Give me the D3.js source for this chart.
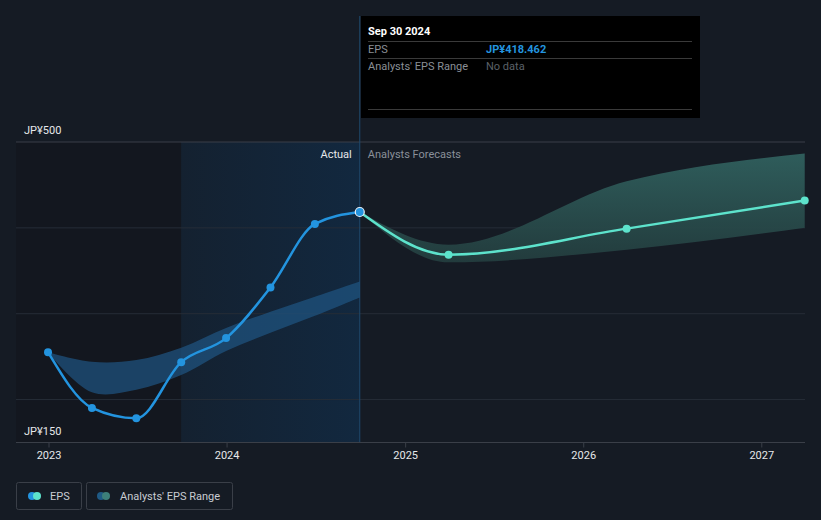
<!DOCTYPE html>
<html>
<head>
<meta charset="utf-8">
<script src="https://cdn.jsdelivr.net/npm/d3@7"></script>
<style>
  html, body { margin: 0; padding: 0; background: #151b24; }
  svg { display: block; font-family: Roboto, "Noto Sans", sans-serif; }
</style>
</head>
<body>
<svg id="chart" width="821" height="520"></svg>
<script>
// ---- data ----
const actualDates = ["2022-12-31","2023-03-31","2023-06-30","2023-09-30","2023-12-31","2024-03-31","2024-06-30","2024-09-30"];
const actualEPS   = [255.2, 190.3, 178.2, 243.6, 271.6, 330.6, 404.6, 418.462];

const pastRangeDates = ["2022-12-31","2023-03-31","2023-06-30","2023-09-30","2023-12-31","2024-03-31","2024-06-30","2024-09-30"];
const pastRangeHigh  = [255.2, 244.0, 246.0, 260.5, 283.5, 302.3, 319.8, 337.6];
const pastRangeLow   = [255.2, 208.5, 211.5, 228.5, 256.5, 277.8, 297.6, 319.0];

const forecastDates = ["2024-09-30","2025-03-31","2026-03-31","2027-03-31"];
const forecastEPS   = [418.462, 368.8, 399.1, 431.8];
const forecastHigh  = [418.462, 380.4, 454.3, 486.6];
const forecastLow   = [418.462, 359.8, 374.6, 400.0];

const yearTicks = ["2023","2024","2025","2026","2027"];
const yTickLabels = [500, 150];
const gridValues = [500, 400, 300, 200];

const tooltipDate = "Sep 30 2024";
const tooltipEPS = "JP¥418.462";
const tooltipRange = "No data";

// ---- setup ----
const W = 821, H = 520;
const parse = d3.timeParse("%Y-%m-%d");
const svg = d3.select("#chart");

const x = d3.scaleTime()
  .domain([parse("2023-01-01"), parse("2027-01-01")])
  .range([48.5, 761.3]);
const y = d3.scaleLinear().domain([150, 500]).range([442.5, 142]);

const plotLeft = 16, plotRight = 805, plotTop = 142, plotBottom = 442.5;
const splitDate = parse("2024-09-30");
const highlightStart = parse("2023-09-30");

const defs = svg.append("defs");
const hg = defs.append("linearGradient").attr("id","hl").attr("x1","0").attr("x2","1").attr("y1","0").attr("y2","0");
hg.append("stop").attr("offset","0").attr("stop-color","#142130");
hg.append("stop").attr("offset","1").attr("stop-color","#12283f");
const fg = defs.append("linearGradient").attr("id","fband").attr("x1","0").attr("x2","0").attr("y1","0").attr("y2","1");
fg.append("stop").attr("offset","0").attr("stop-color","#30605e");
fg.append("stop").attr("offset","1").attr("stop-color","#233d3e");

// background regions
svg.append("rect").attr("x",0).attr("y",0).attr("width",W).attr("height",H).attr("fill","#151b24");
svg.append("rect").attr("x",plotLeft).attr("y",plotTop)
  .attr("width", x(highlightStart)-plotLeft).attr("height", plotBottom-plotTop).attr("fill","#13171f");
svg.append("rect").attr("x",x(highlightStart)).attr("y",plotTop)
  .attr("width", x(splitDate)-x(highlightStart)).attr("height", plotBottom-plotTop).attr("fill","url(#hl)");

// gridlines
svg.append("g").selectAll("line").data(gridValues).join("line")
  .attr("x1",plotLeft).attr("x2",plotRight)
  .attr("y1",d=>y(d)).attr("y2",d=>y(d))
  .attr("stroke", (d,i)=> i===0 ? "#3a3f48" : "#262d37").attr("stroke-width",1);

// split vertical line
svg.append("line").attr("x1",x(splitDate)).attr("x2",x(splitDate))
  .attr("y1",16).attr("y2",plotBottom).attr("stroke","#1e4a6e").attr("stroke-width",1);

// bands
const pastBand = pastRangeDates.map((d,i)=>({d:parse(d), hi:pastRangeHigh[i], lo:pastRangeLow[i]}));
const fBand = forecastDates.map((d,i)=>({d:parse(d), hi:forecastHigh[i], lo:forecastLow[i]}));
const pastArea = d3.area().x(p=>x(p.d)).y0(p=>y(p.lo)).y1(p=>y(p.hi)).curve(d3.curveCatmullRom.alpha(0.5));
const area = d3.area().x(p=>x(p.d)).y0(p=>y(p.lo)).y1(p=>y(p.hi)).curve(d3.curveMonotoneX);
svg.append("path").datum(pastBand).attr("d",pastArea).attr("fill","#1f5683").attr("fill-opacity",0.7);
svg.append("path").datum(fBand).attr("d",area).attr("fill","url(#fband)").attr("fill-opacity",0.95);

// lines
const act = actualDates.map((d,i)=>({d:parse(d), v:actualEPS[i]}));
const fc = forecastDates.map((d,i)=>({d:parse(d), v:forecastEPS[i]}));
const line = d3.line().x(p=>x(p.d)).y(p=>y(p.v)).curve(d3.curveMonotoneX);
svg.append("path").datum(fc).attr("d",line).attr("fill","none").attr("stroke","#5de3cc").attr("stroke-width",2.5);
svg.append("path").datum(act).attr("d",line).attr("fill","none").attr("stroke","#2394df").attr("stroke-width",2.5);

svg.append("g").selectAll("circle").data(fc.slice(1)).join("circle")
  .attr("cx",p=>x(p.d)).attr("cy",p=>y(p.v)).attr("r",4).attr("fill","#5de3cc");
svg.append("g").selectAll("circle").data(act.slice(0,-1)).join("circle")
  .attr("cx",p=>x(p.d)).attr("cy",p=>y(p.v)).attr("r",4).attr("fill","#2394df");
const last = act[act.length-1];
svg.append("circle").attr("cx",x(last.d)).attr("cy",y(last.v)).attr("r",4.5)
  .attr("fill","#2394df").attr("stroke","#e8eef5").attr("stroke-width",1.2);

// x axis
svg.append("line").attr("x1",plotLeft).attr("x2",plotRight).attr("y1",plotBottom).attr("y2",plotBottom)
  .attr("stroke","#3a3f48").attr("stroke-width",1);
const xAxis = d3.axisBottom(x)
  .tickValues(yearTicks.map(t=>parse(t+"-01-01")))
  .tickFormat(d3.timeFormat("%Y")).tickSize(5).tickPadding(4);
const gx = svg.append("g").attr("transform",`translate(0,${plotBottom})`).call(xAxis);
gx.select(".domain").remove();
gx.selectAll(".tick line").attr("stroke","#3a3f48");
gx.selectAll(".tick text").attr("fill","#e6e8ea").attr("font-size",11).attr("font-family","Roboto, sans-serif");

// y labels
svg.append("g").selectAll("text").data(yTickLabels).join("text")
  .attr("x",24).attr("y",d=>y(d)-8).attr("fill","#e6e8ea").attr("font-size",11)
  .text(d=>"JP¥"+d);

// Actual / Forecast labels
svg.append("text").attr("x",x(splitDate)-8).attr("y",158).attr("text-anchor","end")
  .attr("fill","#e6e8ea").attr("font-size",11).text("Actual");
svg.append("text").attr("x",x(splitDate)+8).attr("y",158)
  .attr("fill","#8a9099").attr("font-size",11).text("Analysts Forecasts");

// tooltip
const tt = svg.append("g");
tt.append("rect").attr("x",361).attr("y",16).attr("width",339).attr("height",102).attr("fill","#000");
tt.append("text").attr("x",368).attr("y",35).attr("fill","#ffffff").attr("font-size",11).attr("font-weight","bold").text(tooltipDate);
[41.5,58.5,109.5].forEach(yy=>tt.append("line").attr("x1",368).attr("x2",692).attr("y1",yy).attr("y2",yy).attr("stroke","#3a3a3a"));
tt.append("text").attr("x",368).attr("y",53).attr("fill","#8a8f96").attr("font-size",11).text("EPS");
tt.append("text").attr("x",486).attr("y",53).attr("fill","#2394df").attr("font-size",11).attr("font-weight","bold").text(tooltipEPS);
tt.append("text").attr("x",368).attr("y",70).attr("fill","#8a8f96").attr("font-size",11).text("Analysts' EPS Range");
tt.append("text").attr("x",486).attr("y",70).attr("fill","#5b6068").attr("font-size",11).text(tooltipRange);

// legend
const lg = svg.append("g");
lg.append("rect").attr("x",16.5).attr("y",482.5).attr("width",65).attr("height",27).attr("rx",2)
  .attr("fill","none").attr("stroke","#3a3f48");
lg.append("circle").attr("cx",32).attr("cy",496).attr("r",4).attr("fill","#2394df");
lg.append("circle").attr("cx",37).attr("cy",496).attr("r",4).attr("fill","#5de3cc");
lg.append("text").attr("x",50).attr("y",500).attr("fill","#c8ccd2").attr("font-size",11).text("EPS");
lg.append("rect").attr("x",86.5).attr("y",482.5).attr("width",146).attr("height",27).attr("rx",2)
  .attr("fill","none").attr("stroke","#3a3f48");
lg.append("circle").attr("cx",101).attr("cy",496).attr("r",4).attr("fill","#1f5a85");
lg.append("circle").attr("cx",106).attr("cy",496).attr("r",4).attr("fill","#3d7f7a");
lg.append("text").attr("x",120).attr("y",500).attr("fill","#c8ccd2").attr("font-size",11).text("Analysts' EPS Range");
</script>
</body>
</html>
